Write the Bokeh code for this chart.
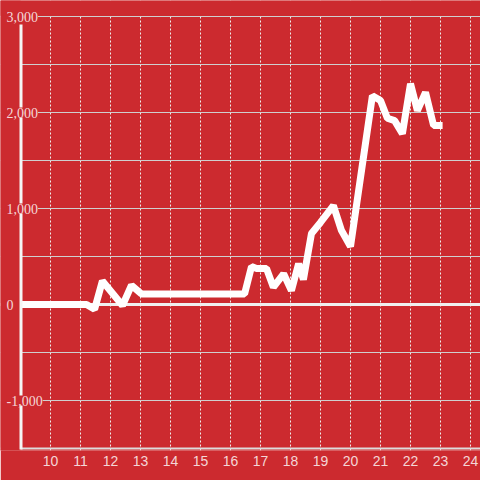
from bokeh.plotting import figure
from bokeh.models import (FixedTicker, Grid, LabelSet, ColumnDataSource,
                          Range1d, BoxAnnotation)
from bokeh.embed import file_html
from bokeh.resources import INLINE

# ---- data ----
hours = [9.0, 11.2, 11.47, 11.73, 12.4, 12.7, 13.03, 16.47, 16.7, 16.87, 17.2,
         17.43, 17.77, 18.03, 18.27, 18.43, 18.7, 19.0, 19.43, 19.7, 20.0,
         20.73, 21.0, 21.23, 21.47, 21.73, 22.0, 22.23, 22.5, 22.77, 23.07]
values = [0, 0, -50, 245, -10, 200, 110, 110, 395, 375, 375,
          180, 320, 145, 425, 260, 740, 855, 1030, 770, 605,
          2175, 2125, 1940, 1915, 1780, 2300, 2020, 2210, 1865, 1865]
x_ticks = list(range(10, 25))
y_tick_values = [-1000, 0, 1000, 2000, 3000]
y_tick_labels = ["-1,000", "0", "1,000", "2,000", "3,000"]
y_grid_values = [-1000, -500, 500, 1000, 1500, 2000, 2500, 3000]
x_min, x_max = 9, 24
y_min, y_max = -1500, 3000

BG = "#cc2a2f"
TXT = "#f4d6d7"
FONT = "Liberation Sans"

px_x = 30.0      # pixels per hour
px_y = 0.096     # pixels per unit

p = figure(width=480, height=480, output_backend="svg", toolbar_location=None,
           x_range=Range1d(x_min - 20 / px_x, x_min + 460 / px_x),
           y_range=Range1d(y_min - 2 / px_y, y_max + 16 / px_y),
           y_axis_location=None, min_border_left=0, min_border_right=0,
           min_border_top=0, min_border_bottom=30)
p.background_fill_color = BG
p.border_fill_color = BG
p.outline_line_color = None

# x axis
p.xaxis.ticker = FixedTicker(ticks=x_ticks)
p.xaxis.axis_line_color = None
p.xaxis.major_tick_line_color = None
p.xaxis.minor_tick_line_color = None
p.xaxis.major_label_text_color = TXT
p.xaxis.major_label_text_font = FONT
p.xaxis.major_label_text_font_size = "14px"
p.xaxis.major_label_standoff = -1

# grids
p.xgrid.grid_line_color = "#eeeeee"
p.xgrid.grid_line_dash = "2 2"
p.xgrid.grid_line_width = 1
p.ygrid.visible = False
p.add_layout(Grid(dimension=1, ticker=FixedTicker(ticks=y_grid_values),
                  grid_line_color="#cfcfcf", grid_line_width=1.2))
# zero line and bottom axis line
p.add_layout(Grid(dimension=1, ticker=FixedTicker(ticks=[0]),
                  grid_line_color="#f0f0f0", grid_line_width=3))
p.add_layout(Grid(dimension=1, ticker=FixedTicker(ticks=[y_min]),
                  grid_line_color="#dcdcdc", grid_line_width=2))

# data line
p.line(hours, values, line_color="white", line_width=7)

# masks: left of the y axis, above the top grid line
p.add_layout(BoxAnnotation(right=x_min, fill_color=BG, fill_alpha=1, line_color=None))
p.add_layout(BoxAnnotation(bottom=y_max + 0.7 / px_y, fill_color=BG, fill_alpha=1,
                           line_color=None))

# left axis line
p.add_layout(BoxAnnotation(left=x_min - 1 / px_x, right=x_min + 2 / px_x,
                           bottom=y_min - 1 / px_y, top=y_max - 8 / px_y,
                           fill_color="#f5f5f5", fill_alpha=1, line_color=None))

# y tick labels with background covering axis/grid
src = ColumnDataSource(dict(x=[x_min] * len(y_tick_values), y=y_tick_values, t=y_tick_labels))
p.add_layout(LabelSet(x="x", y="y", text="t", source=src, x_offset=-14,
                      text_align="left", text_baseline="middle",
                      text_color=TXT, text_font=FONT, text_font_size="14px",
                      background_fill_color=BG))

open("out.html", "w").write(file_html(p, INLINE))
